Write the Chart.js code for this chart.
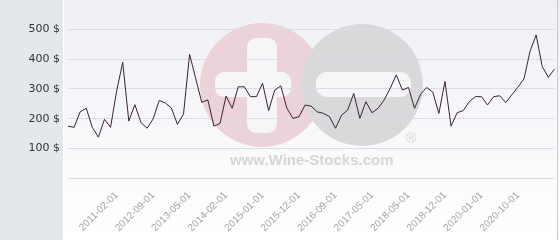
<!DOCTYPE html>
<html>
<head>
<meta charset="utf-8">
<script src="https://cdn.jsdelivr.net/npm/chart.js@4.4.0/dist/chart.umd.min.js"></script>
<style>
  html, body { margin: 0; padding: 0; background: #fff; }
  #wrap { width: 560px; height: 240px; position: relative; }
</style>
</head>
<body>
<div id="wrap"><canvas id="priceChart"></canvas></div>
<script>
// one point per listed price; only some dates are printed on the axis
const categories = [
  '', '', '', '', '', '', '', '',
  '2011-02-01', '', '', '', '', '',
  '2012-09-01', '', '', '', '', '',
  '2013-05-01', '', '', '', '', '',
  '2014-02-01', '', '', '', '', '',
  '2015-01-01', '', '', '', '', '',
  '2015-12-01', '', '', '', '', '',
  '2016-09-01', '', '', '', '', '',
  '2017-05-01', '', '', '', '', '',
  '2018-05-01', '', '', '', '', '',
  '2018-12-01', '', '', '', '', '',
  '2020-01-01', '', '', '', '', '',
  '2020-10-01', '', '', '', '', '', ''
];

const prices = [
  175, 171, 223, 235, 171, 138, 198, 171, 293, 389,
  192, 247, 187, 168, 199, 261, 253, 236, 181, 216,
  416, 335, 255, 263, 175, 184, 276, 235, 307, 307,
  274, 274, 319, 227, 296, 310, 235, 201, 207, 246,
  242, 223, 218, 207, 168, 212, 229, 285, 201, 257,
  220, 235, 263, 302, 347, 296, 305, 235, 282, 305,
  289, 218, 325, 175, 220, 227, 257, 274, 274, 246,
  274, 277, 254, 280, 306, 334, 427, 481, 375, 339,
  366
];

const yMin = 0;
const yMax = 500;
const yStep = 100;

// panel, background gradient and the wine-stocks watermark
const backdrop = {
  id: 'backdrop',
  beforeDraw(chart) {
    const { ctx, width, height } = chart;
    ctx.save();
    const g = ctx.createLinearGradient(0, 0, 0, height);
    g.addColorStop(0, '#eff0f5');
    g.addColorStop(0.72, '#fbfbfd');
    g.addColorStop(1, '#ffffff');
    ctx.fillStyle = g;
    ctx.fillRect(0, 0, width, height);
    ctx.fillStyle = '#e5e8eb';
    ctx.fillRect(0, 0, 63, height);
    ctx.fillStyle = '#ffffff';
    ctx.fillRect(63, 0, 1, height);
    ctx.fillStyle = '#c8c8cc';
    ctx.fillRect(557, 0, 1, height);

    // logo circles
    ctx.fillStyle = '#ecd2d9';
    ctx.beginPath(); ctx.arc(262, 85, 62, 0, Math.PI * 2); ctx.fill();
    ctx.fillStyle = '#d9d9db';
    ctx.beginPath(); ctx.arc(362, 85, 61, 0, Math.PI * 2); ctx.fill();

    ctx.fillStyle = '#f6f6f9';
    const bar = (x, y, w, h, r) => {
      ctx.beginPath();
      ctx.roundRect(x, y, w, h, r);
      ctx.fill();
    };
    bar(247, 38, 30, 95, 9);
    bar(215, 72, 76, 25, 9);
    bar(316, 72, 95, 25, 11);

    ctx.fillStyle = '#d6d6d8';
    ctx.font = 'bold 15px "Liberation Sans", Arial, sans-serif';
    ctx.textBaseline = 'alphabetic';
    ctx.fillText('www.Wine-Stocks.com', 230, 165);
    ctx.font = '14px "Liberation Sans", Arial, sans-serif';
    ctx.fillText('\u00AE', 406, 143);
    ctx.restore();
  }
};

new Chart(document.getElementById('priceChart'), {
  type: 'line',
  data: {
    labels: categories,
    datasets: [{
      data: prices,
      borderColor: '#3b2230',
      borderWidth: 1,
      pointRadius: 0,
      tension: 0,
      fill: false
    }]
  },
  options: {
    responsive: true,
    maintainAspectRatio: false,
    animation: false,
    layout: { padding: { left: 0, right: 5.6, top: 29.3, bottom: 0 } },
    plugins: { legend: { display: false }, tooltip: { enabled: false } },
    scales: {
      x: {
        grid: { display: false },
        border: { display: false },
        ticks: {
          autoSkip: false,
          minRotation: 45,
          maxRotation: 45,
          color: '#a3a3a3',
          font: { family: '"Liberation Sans", Arial, sans-serif', size: 10 },
          callback(v, i) { return categories[i] || null; }
        },
        afterFit(scale) { scale.height = 61.7; }
      },
      y: {
        min: yMin,
        max: yMax,
        grid: { color: '#dcdde2', drawTicks: false },
        border: { display: false },
        ticks: {
          stepSize: yStep,
          padding: 8,
          color: '#333333',
          font: { family: '"DejaVu Sans", sans-serif', size: 11 },
          callback(v) { return v === 0 ? '' : v + ' $'; }
        },
        afterFit(scale) { scale.width = 68; }
      }
    }
  },
  plugins: [backdrop]
});
</script>
</body>
</html>
